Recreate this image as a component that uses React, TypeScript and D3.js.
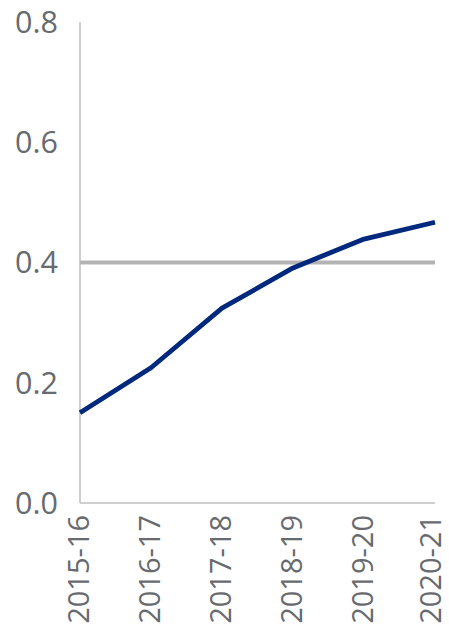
import React from "react";
import * as d3 from "d3";

const categories = ["2015-16", "2016-17", "2017-18", "2018-19", "2019-20", "2020-21"];
const values = [0.15, 0.225, 0.324, 0.391, 0.439, 0.467];
const referenceValue = [0.4];
const yTicks = [0.0, 0.2, 0.4, 0.6, 0.8];

const W = 449;
const H = 629;
const margin = { left: 80, right: 14, top: 22, bottom: 126 };
const FONT = "'Open Sans', 'DejaVu Sans', sans-serif";

export default function App() {
  const x = d3
    .scalePoint<string>()
    .domain(categories)
    .range([margin.left, W - margin.right]);
  const y = d3
    .scaleLinear()
    .domain([0, 0.8])
    .range([H - margin.bottom, margin.top]);

  const line = d3
    .line<number>()
    .x((_, i) => x(categories[i]) as number)
    .y((d) => y(d));

  const x0 = margin.left;
  const x1 = W - margin.right;
  const yBase = y(0);

  return (
    <svg
      width={W}
      height={H}
      style={{ position: "absolute", left: 0, top: 0, background: "#fff" }}
    >
      {/* axes */}
      <line x1={x0} x2={x0} y1={y(0.8)} y2={yBase} stroke="#bfbfbf" strokeWidth={1.5} />
      <line x1={x0} x2={x1} y1={yBase} y2={yBase} stroke="#bfbfbf" strokeWidth={1.5} />

      {/* y tick labels */}
      {yTicks.map((t) => (
        <text
          key={t}
          x={58}
          y={y(t)}
          dy="0.36em"
          textAnchor="end"
          fontFamily={FONT}
          fontSize={30.5}
          fill="#676a6e"
        >
          {t.toFixed(1)}
        </text>
      ))}

      {/* x labels */}
      {categories.map((c) => (
        <text
          key={c}
          transform={`translate(${Math.min((x(c) as number) + 8.5, W - 8.5)},${yBase + 12}) rotate(-90)`}
          textAnchor="end"
          fontFamily={FONT}
          fontSize={29}
          fill="#676a6e"
        >
          {c}
        </text>
      ))}

      {/* reference line */}
      {referenceValue.map((r) => (
        <line
          key={r}
          x1={x0}
          x2={x1}
          y1={y(r)}
          y2={y(r)}
          stroke="#b3b3b3"
          strokeWidth={4}
        />
      ))}

      {/* series line */}
      <path
        d={line(values) || ""}
        fill="none"
        stroke="#00287d"
        strokeWidth={4.8}
        strokeLinejoin="round"
      />
    </svg>
  );
}
